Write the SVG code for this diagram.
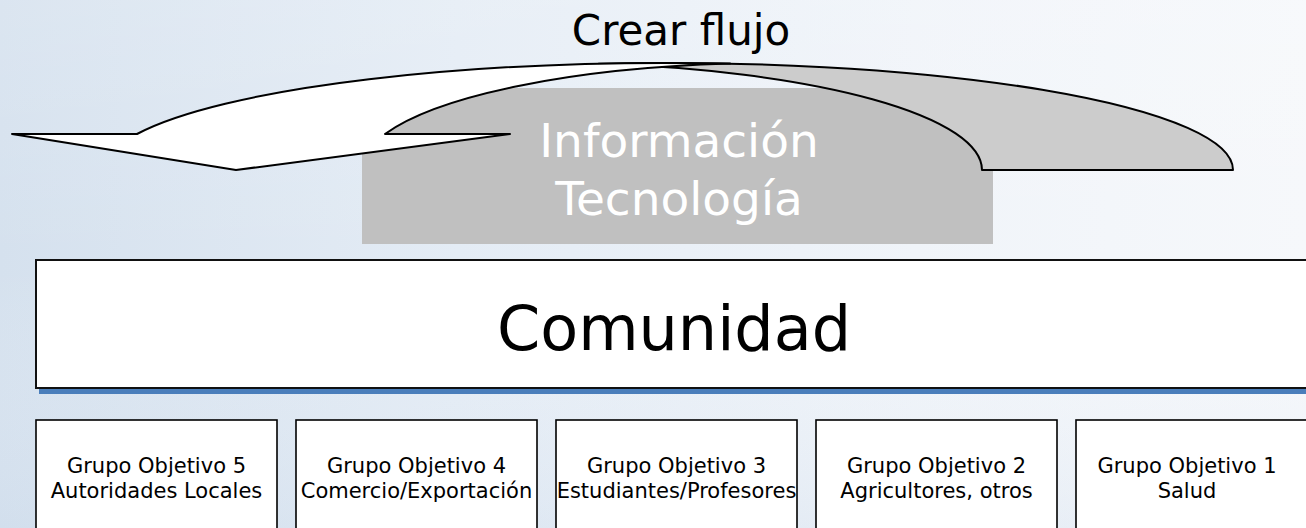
<svg xmlns="http://www.w3.org/2000/svg" width="1306" height="528" viewBox="0 0 1306 528">
  <defs>
    <linearGradient id="bg" x1="0" y1="0" x2="1" y2="0">
      <stop offset="0" stop-color="#d5e1ee"/>
      <stop offset="0.35" stop-color="#e4ecf5"/>
      <stop offset="0.7" stop-color="#f0f4f9"/>
      <stop offset="1" stop-color="#f6f8fb"/>
    </linearGradient>
    <linearGradient id="bgv" x1="0" y1="0" x2="0" y2="1">
      <stop offset="0" stop-color="#ffffff" stop-opacity="0.15"/>
      <stop offset="0.5" stop-color="#ffffff" stop-opacity="0"/>
      <stop offset="1" stop-color="#c9d8ea" stop-opacity="0.25"/>
    </linearGradient>
    <style>
      .box { fill: #ffffff; stroke: #000000; stroke-width: 1.6; }
      .big { fill: #ffffff; stroke: #111111; stroke-width: 2; }
      .lbl { font-family: "DejaVu Sans", Verdana, sans-serif; font-size: 21px; fill: #000000; text-anchor: middle; }
      .arrow { stroke: #000000; stroke-width: 2; stroke-linejoin: round; }
    </style>
  </defs>

  <rect x="0" y="0" width="1306" height="528" fill="url(#bg)"/>
  <rect x="0" y="0" width="1306" height="528" fill="url(#bgv)"/>

  <g id="info-tech">
    <rect x="362" y="88" width="631" height="156" fill="#c0c0c0"/>
  </g>

  <g id="connectors">
    <path class="arrow" fill="#cccccc" d="M 982 170 L 1233 170 A 564.4 107 0 0 0 598.6 63.8 A 437.6 107 0 0 1 982 170 Z"/>
    <path class="arrow" fill="#ffffff" d="M 12 134 L 137 134 A 564.4 107 0 0 1 730.1 63.6 A 414.3 107 0 0 0 385 134 L 510 134 L 236 170 Z"/>
  </g>

  <g id="info-tech-label">
    <text x="679" y="157" font-family="DejaVu Sans, Verdana, sans-serif" font-size="47" fill="#ffffff" text-anchor="middle">Información</text>
    <text x="679" y="215" font-family="DejaVu Sans, Verdana, sans-serif" font-size="47" fill="#ffffff" text-anchor="middle">Tecnología</text>
  </g>

  <g id="flow-label">
    <text x="681" y="45" font-family="DejaVu Sans, Verdana, sans-serif" font-size="42" fill="#000000" text-anchor="middle">Crear flujo</text>
  </g>

  <g id="comunidad">
    <rect x="39" y="264" width="1275" height="130" fill="#4a7ebb"/>
    <rect class="big" x="36" y="260" width="1275" height="128"/>
    <text x="674" y="350" font-family="DejaVu Sans, Verdana, sans-serif" font-size="62" fill="#000000" text-anchor="middle">Comunidad</text>
  </g>

  <g id="grupo5">
    <rect class="box" x="36" y="420" width="241" height="130"/>
    <text class="lbl" x="156.5" y="473">Grupo Objetivo 5</text>
    <text class="lbl" x="156.5" y="498">Autoridades Locales</text>
  </g>
  <g id="grupo4">
    <rect class="box" x="296" y="420" width="241" height="130"/>
    <text class="lbl" x="416.5" y="473">Grupo Objetivo 4</text>
    <text class="lbl" x="416.5" y="498">Comercio/Exportación</text>
  </g>
  <g id="grupo3">
    <rect class="box" x="556" y="420" width="241" height="130"/>
    <text class="lbl" x="676.5" y="473">Grupo Objetivo 3</text>
    <text class="lbl" x="676.5" y="498">Estudiantes/Profesores</text>
  </g>
  <g id="grupo2">
    <rect class="box" x="816" y="420" width="241" height="130"/>
    <text class="lbl" x="936.5" y="473">Grupo Objetivo 2</text>
    <text class="lbl" x="936.5" y="498">Agricultores, otros</text>
  </g>
  <g id="grupo1">
    <rect class="box" x="1076" y="420" width="241" height="130"/>
    <text class="lbl" x="1187" y="473">Grupo Objetivo 1</text>
    <text class="lbl" x="1187" y="498">Salud</text>
  </g>
</svg>
